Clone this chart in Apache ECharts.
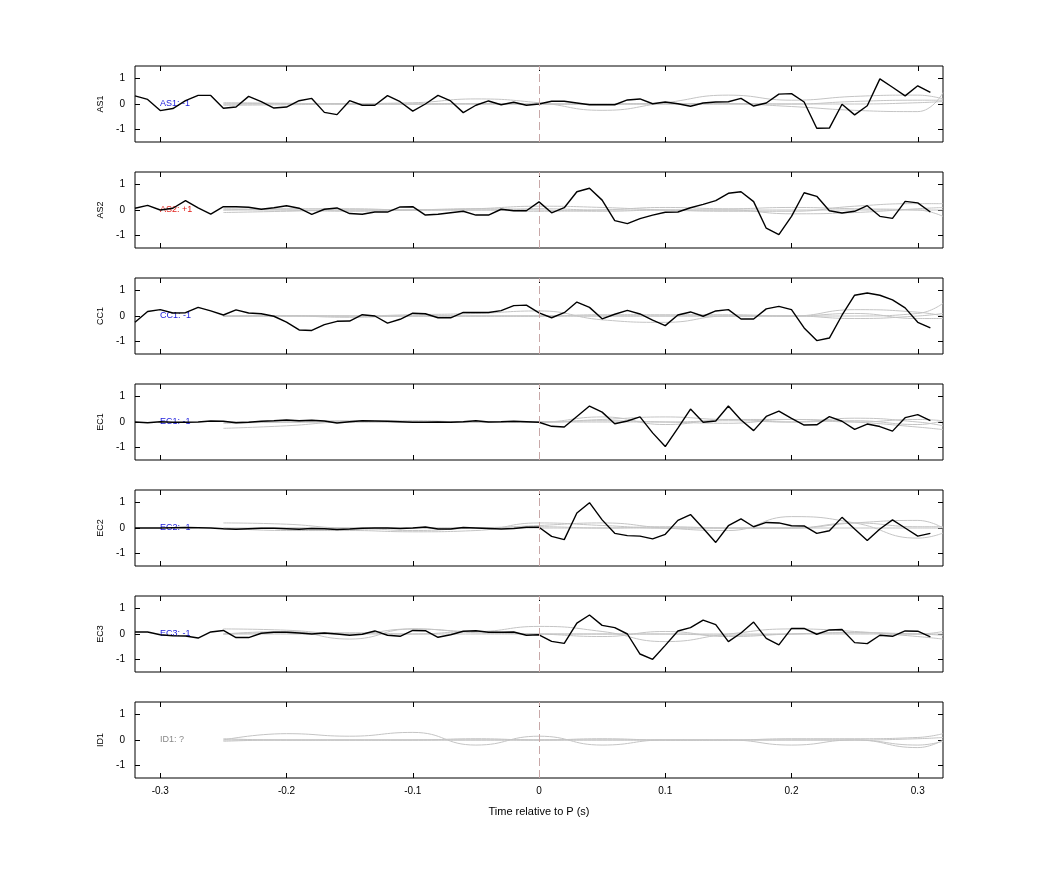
<!DOCTYPE html>
<html>
<head>
<meta charset="utf-8">
<script src="https://cdn.jsdelivr.net/npm/echarts@6/dist/echarts.min.js"></script>
<style>
  html, body { margin: 0; padding: 0; background: #fff; }
  #chart { width: 1042px; height: 875px; }
</style>
</head>
<body>
<div id="chart"></div>
<script>
// station names and polarity labels
var stations = ['AS1', 'AS2', 'CC1', 'EC1', 'EC2', 'EC3', 'ID1'];
var polarity = ['AS1: -1', 'AS2: +1', 'CC1: -1', 'EC1: -1', 'EC2: -1', 'EC3: -1', 'ID1: ?'];
var polColor = ['#1a1adc', '#e0201a', '#1a1adc', '#1a1adc', '#1a1adc', '#1a1adc', '#888888'];
var xTicks = [-0.3, -0.2, -0.1, 0, 0.1, 0.2, 0.3];
var yTicks = [-1, 0, 1];

// black traces, one sample per 0.01 s from -0.32 to 0.31
var as1 = [0.32,0.18,-0.26,-0.18,0.13,0.34,0.34,-0.17,-0.12,0.30,0.09,-0.16,-0.12,0.13,0.22,-0.33,-0.42,0.13,-0.05,-0.05,0.33,0.09,-0.28,0,0.34,0.12,-0.34,-0.05,0.12,-0.03,0.07,-0.05,0,0.11,0.11,0.04,-0.03,-0.03,-0.03,0.16,0.2,0.01,0.08,0.01,-0.09,0.04,0.08,0.09,0.22,-0.08,0.04,0.39,0.41,0.08,-0.96,-0.95,-0.01,-0.43,-0.07,0.99,0.66,0.32,0.72,0.46];
var as2 = [0.07,0.18,0,0.07,0.37,0.08,-0.16,0.13,0.13,0.11,0.03,0.09,0.17,0.07,-0.17,0.03,0.08,-0.14,-0.17,-0.08,-0.08,0.12,0.13,-0.2,-0.17,-0.11,-0.05,-0.2,-0.2,0.03,-0.03,-0.03,0.32,-0.11,0.09,0.72,0.86,0.39,-0.42,-0.54,-0.34,-0.2,-0.09,-0.08,0.09,0.22,0.37,0.66,0.72,0.33,-0.72,-0.97,-0.25,0.68,0.54,-0.03,-0.12,-0.05,0.17,-0.25,-0.33,0.34,0.28,-0.08];
var cc1 = [-0.25,0.18,0.25,0.12,0.13,0.34,0.2,0.04,0.24,0.12,0.09,-0.01,-0.24,-0.55,-0.57,-0.34,-0.21,-0.2,0.05,0,-0.28,-0.13,0.11,0.09,-0.07,-0.07,0.14,0.14,0.14,0.21,0.41,0.43,0.12,-0.07,0.13,0.55,0.34,-0.11,0.07,0.22,0.08,-0.16,-0.38,0.04,0.16,-0.01,0.2,0.25,-0.12,-0.12,0.28,0.38,0.25,-0.47,-0.97,-0.87,0.03,0.82,0.91,0.82,0.64,0.32,-0.25,-0.47];
var ec1 = [0,-0.03,0.01,-0.01,-0.01,0,0.04,0.03,-0.03,-0.01,0.03,0.05,0.08,0.05,0.07,0.04,-0.04,0.01,0.05,0.04,0.03,0.01,-0.01,-0.01,0,-0.01,0.01,0.05,0,0.01,0.03,0.01,-0.01,-0.17,-0.2,0.22,0.63,0.39,-0.07,0.04,0.2,-0.43,-0.97,-0.24,0.51,-0.01,0.04,0.63,0.08,-0.34,0.22,0.43,0.14,-0.12,-0.11,0.21,0.03,-0.29,-0.08,-0.18,-0.36,0.17,0.29,0.05];
var ec2 = [0,0,0,0.01,0.02,0.01,0,-0.03,-0.05,-0.03,-0.01,-0.01,-0.03,-0.05,-0.02,-0.03,-0.06,-0.04,-0.01,0,0,-0.02,0,0.04,-0.04,-0.04,0.02,0,-0.02,-0.04,-0.02,0.03,0.03,-0.33,-0.46,0.59,1.0,0.32,-0.21,-0.3,-0.32,-0.43,-0.25,0.30,0.53,-0.01,-0.57,0.09,0.36,0.05,0.22,0.2,0.09,0.08,-0.21,-0.11,0.42,-0.04,-0.49,-0.04,0.32,0,-0.32,-0.21];
var ec3 = [0.08,0.08,-0.03,-0.07,-0.08,-0.16,0.08,0.14,-0.14,-0.14,0.03,0.07,0.07,0.04,0,0.04,0,-0.05,-0.01,0.12,-0.05,-0.09,0.14,0.13,-0.13,-0.03,0.11,0.13,0.07,0.07,0.08,-0.05,-0.03,-0.29,-0.37,0.43,0.75,0.34,0.25,0,-0.79,-1.0,-0.45,0.12,0.25,0.55,0.37,-0.3,0.04,0.47,-0.17,-0.43,0.22,0.22,-0.01,0.16,0.18,-0.34,-0.38,-0.05,-0.09,0.12,0.11,-0.11];
var id1 = null;
var traces = [as1, as2, cc1, ec1, ec2, ec3, id1];

// grey synthetic traces, sampled coarsely
var gx = [-0.25,-0.2,-0.15,-0.1,-0.05,0,0.05,0.1,0.15,0.2,0.25,0.3,0.32];
var greys = [
  [[0,0.02,0.02,0.05,0.2,0.05,-0.25,0.05,0.35,0.15,0.3,0.35,0.2],
   [0,0,0,0,0,0,0,0,0,-0.1,-0.25,-0.3,0.45],
   [0.05,0.03,0,0,0,0,0,0.02,0.02,0,0.1,0.15,0.15],
   [-0.05,-0.03,0,0,0.02,0,0,0,0,0,0,0.05,0.1]],
  [[0,0.05,0.05,0,0.05,0.15,0.1,0,-0.05,-0.05,0.15,0.25,0.25],
   [-0.1,-0.05,0,0,0,-0.05,0,0.1,0.05,0.1,0.05,0,-0.25],
   [0.05,0,-0.05,0,0.05,0,-0.05,0,0,-0.15,-0.1,0.05,0.1],
   [0,0,0,0,0,0.05,0,0,0,0,0,0,0]],
  [[0,0,0,0.05,0.1,0.2,-0.15,-0.25,0,0,0,0.1,0.5],
   [0,0,-0.05,0,0,0,0.05,0.05,0.05,0,0.25,0.15,0],
   [0,0.02,0,0,0,0,0,0,0,0,0.1,-0.1,-0.1],
   [-0.02,0,0,0,0,0,0,0,0,0,-0.1,0,0.1]],
  [[-0.25,-0.15,0,0,0,0,0.1,0.2,0.1,0.1,0,-0.2,-0.3],
   [-0.05,0,0.05,0,0,0,0.2,-0.1,0.1,0,0.15,0,-0.15],
   [0,0,0,0,0,0,0.05,0,-0.05,0.1,0,0.1,0.05],
   [0,0,0.02,0.05,0,0,0,0,0.05,0,0.05,-0.1,0.05]],
  [[0.2,0.15,0,0,0,0.1,0.2,0,-0.1,0.45,0.2,-0.4,-0.2],
   [0,-0.1,-0.1,-0.15,-0.1,0.2,0.1,0,0,0,0.2,0.3,0],
   [-0.05,0,-0.05,0,0,0,0,0,0,0,0,0,0],
   [0,0,0,-0.1,0,0.05,0,0.05,0,0,0.2,0.05,0.05]],
  [[0.2,0.15,0,0.2,0.1,0.3,0.1,-0.3,0,0.2,0.1,-0.1,-0.2],
   [0,0.1,-0.2,0.2,0.05,0,-0.1,0.1,-0.1,0,0.05,0,0.1],
   [0,0,0,0,0,0,0,0,0,0,0,0,0],
   [0,0.05,0.05,0,0.1,0,0,0,-0.05,0,0.05,0,-0.05]],
  [[0,0.25,0.15,0.3,-0.2,0.15,-0.2,0,0,-0.2,0,-0.2,-0.05],
   [0,0,0,0,0,0,0.05,0,0,0,0,-0.3,0],
   [0.05,0,0,0,0.05,0,0,0,0,0.05,0.05,0.1,0.25],
   [-0.05,0,0,0,0,0,0,0,0,0,0,0.05,0.1]]
];

var chart = echarts.init(document.getElementById('chart'));
var grids = [], xAxes = [], yAxes = [], series = [], graphics = [];

stations.forEach(function (name, i) {
  var top = 66 + 106 * i;
  var last = i === stations.length - 1;
  grids.push({ left: 135, right: 99, top: top, height: 76, show: true, borderColor: '#000', borderWidth: 1 });
  // bottom and top x axes (ticks both sides)
  ['bottom', 'top'].forEach(function (pos) {
    xAxes.push({
      type: 'value', gridIndex: i, min: -0.32, max: 0.32, position: pos,
      axisLine: { show: false, onZero: false }, splitLine: { show: false },
      axisTick: { inside: true, length: 5, customValues: xTicks, lineStyle: { color: '#000' } },
      axisLabel: { show: last && pos === 'bottom', customValues: xTicks, color: '#000', fontSize: 10, fontFamily: 'Liberation Sans' },
      name: last && pos === 'bottom' ? 'Time relative to P (s)' : '',
      nameLocation: 'middle', nameGap: 28,
      nameTextStyle: { color: '#000', fontSize: 11, fontFamily: 'Liberation Sans' }
    });
  });
  ['left', 'right'].forEach(function (pos) {
    yAxes.push({
      type: 'value', gridIndex: i, min: -1.5, max: 1.5, position: pos,
      axisLine: { show: false, onZero: false }, splitLine: { show: false },
      axisTick: { inside: true, length: 5, customValues: yTicks, lineStyle: { color: '#000' } },
      axisLabel: { show: pos === 'left', customValues: yTicks, color: '#000', fontSize: 10, margin: 10, fontFamily: 'Liberation Sans' },
      name: pos === 'left' ? name : '', nameLocation: 'middle', nameGap: 24, nameRotate: 90,
      nameTextStyle: { color: '#000', fontSize: 9, fontFamily: 'Liberation Sans' }
    });
  });

  greys[i].forEach(function (g, k) {
    var s = {
      type: 'line', xAxisIndex: 2 * i, yAxisIndex: 2 * i, smooth: 0.5, symbol: 'none', silent: true,
      lineStyle: { color: '#c4c4c4', width: 1 },
      data: gx.map(function (x, j) { return [x, g[j]]; })
    };
    if (k === 0) {
      s.markLine = {
        silent: true, symbol: 'none', label: { show: false },
        lineStyle: { color: '#c8a8a8', type: [8, 4], width: 1 },
        data: [{ xAxis: 0 }]
      };
    }
    series.push(s);
  });

  if (traces[i]) {
    series.push({
      type: 'line', xAxisIndex: 2 * i, yAxisIndex: 2 * i, symbol: 'none', silent: true,
      lineStyle: { color: '#000', width: 1.4 },
      data: traces[i].map(function (v, j) { return [-0.32 + j * 0.01, v]; })
    });
  }

  graphics.push({
    type: 'text', left: 160, top: top + 33,
    style: { text: polarity[i], fill: polColor[i], fontSize: 9, fontFamily: 'Liberation Sans' }
  });
});

chart.setOption({
  animation: false,
  grid: grids,
  xAxis: xAxes,
  yAxis: yAxes,
  series: series,
  graphic: graphics
});
</script>
</body>
</html>
